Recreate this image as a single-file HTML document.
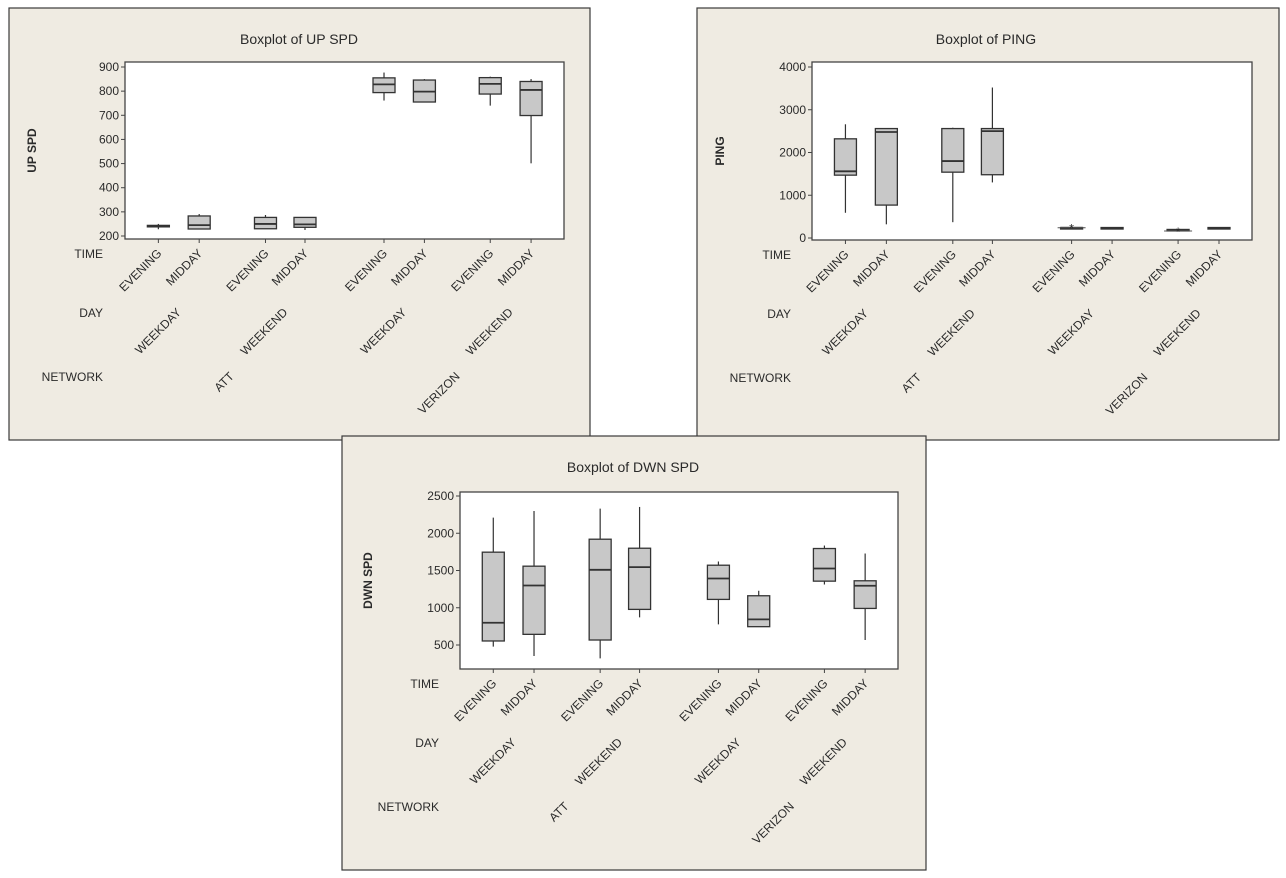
<!DOCTYPE html>
<html><head><meta charset="utf-8"><style>
html,body{margin:0;padding:0;background:#fff;}
svg text{font-family:"Liberation Sans",sans-serif;fill:#2a2a2a;}
</style></head><body>
<svg id="s" width="1286" height="873" viewBox="0 0 1286 873" xmlns="http://www.w3.org/2000/svg"></svg>
<script>
const times = ["EVENING","MIDDAY","EVENING","MIDDAY","EVENING","MIDDAY","EVENING","MIDDAY"];
const days = ["WEEKDAY","WEEKEND","WEEKDAY","WEEKEND"];
const networks = ["ATT","VERIZON"];

const upLow = [228,229,230,225,761,755,740,501];
const upQ1  = [238,229,230,236,794,755,788,699];
const upMed = [241,245,250,248,828,798,830,805];
const upQ3  = [244,283,277,277,855,846,856,840];
const upHigh= [250,291,287,277,877,850,860,850];
const upTicks = [200,300,400,500,600,700,800,900];

const pingLow = [590,320,370,1300,240,225,165,225];
const pingQ1  = [1470,770,1540,1480,235,220,180,220];
const pingMed = [1560,2480,1800,2500,240,230,190,230];
const pingQ3  = [2320,2560,2560,2560,245,245,200,245];
const pingHigh= [2660,2560,2580,3520,245,245,200,245];
const pingOut = [null,null,null,null,240,null,165,null];
const pingTicks = [0,1000,2000,3000,4000];

const dnLow = [478,353,321,871,777,746,1312,567];
const dnQ1  = [554,643,567,978,1112,746,1357,991];
const dnMed = [799,1299,1509,1545,1393,844,1527,1295];
const dnQ3  = [1746,1558,1920,1799,1571,1161,1795,1362];
const dnHigh= [2210,2299,2330,2353,1621,1228,1835,1728];
const dnTicks = [500,1000,1500,2000,2500];

const NS="http://www.w3.org/2000/svg";
const svg=document.getElementById('s');
function mk(tag,attrs,parent,text){const e=document.createElementNS(NS,tag);for(const k in attrs)e.setAttribute(k,attrs[k]);if(text!==undefined)e.textContent=text;(parent||svg).appendChild(e);return e;}

const slotFrac=[0.076,0.169,0.32,0.41,0.59,0.682,0.832,0.925];

function panel(cfg){
  const g=mk('g',{});
  
  
  const bg=mk('rect',{x:cfg.px,y:cfg.py,width:cfg.pw,height:cfg.ph,fill:'#efebe2',stroke:'#3a3a3a','stroke-width':1.2},g);
  
  
  const t=mk('text',{x:cfg.tx,y:cfg.ty,'text-anchor':'middle','font-size':14},g,cfg.title);
  
  
  const L=cfg.l,R=cfg.r,T=cfg.t,B=cfg.b;
  const pa=mk('rect',{x:L,y:T,width:R-L,height:B-T,fill:'#fff',stroke:'#444','stroke-width':1.3},g);
  
  
  const y=v=>cfg.y0+(v-cfg.v0)*(cfg.y1-cfg.y0)/(cfg.v1-cfg.v0);
  const x=i=>L+slotFrac[i]*(R-L);
  cfg.ticks.forEach(v=>{
    mk('line',{x1:L-4,x2:L,y1:y(v),y2:y(v),stroke:'#444'},g);
    const tl=mk('text',{x:L-6,y:y(v)+4,'text-anchor':'end','font-size':12},g,String(v));
    
    
  });
  const yt=mk('text',{x:0,y:0,'text-anchor':'middle','font-size':12,'font-weight':'bold',transform:`translate(${cfg.ytx},${(T+B)/2}) rotate(-90)`},g,cfg.ylab);
  
  
  const bw=22;
  for(let i=0;i<8;i++){
    const cx=x(i);
    mk('line',{x1:cx,x2:cx,y1:B,y2:B+4,stroke:'#444'},g);
    mk('line',{x1:cx,x2:cx,y1:y(cfg.high[i]),y2:y(cfg.low[i]),stroke:'#333','stroke-width':1.2},g);
    const h=Math.max(1.5,y(cfg.q1[i])-y(cfg.q3[i]));
    const bx=mk('rect',{x:cx-bw/2,y:y(cfg.q3[i]),width:bw,height:h,fill:'#c8c8c8',stroke:'#333','stroke-width':1.3},g);
    
    
    mk('line',{x1:cx-bw/2,x2:cx+bw/2,y1:y(cfg.med[i]),y2:y(cfg.med[i]),stroke:'#333','stroke-width':1.8},g);
    if(cfg.out&&cfg.out[i]!=null){
      const oy=y(cfg.out[i]);
      mk('line',{x1:cx-bw/2-3,x2:cx+bw/2+3,y1:oy,y2:oy,stroke:'#555'},g);
      const o=mk('text',{x:cx,y:oy+5,'text-anchor':'middle','font-size':12},g,'*');
      
      
    }
    const tl=mk('text',{x:0,y:0,'text-anchor':'end','font-size':12,transform:`translate(${cx+4},${B+15}) rotate(-45)`},g,times[i]);
    
    
  }
  for(let d=0;d<4;d++){
    const cx=(x(2*d)+x(2*d+1))/2;
    const dl=mk('text',{x:0,y:0,'text-anchor':'end','font-size':12,transform:`translate(${cx+3},${B+74}) rotate(-45)`},g,days[d]);
    
    
  }
  for(let n=0;n<2;n++){
    const cx=(x(4*n)+x(4*n+3))/2;
    const nl=mk('text',{x:0,y:0,'text-anchor':'end','font-size':12,transform:`translate(${cx+3},${B+138}) rotate(-45)`},g,networks[n]);
    
    
  }
  [['TIME',19],['DAY',78],['NETWORK',142]].forEach(([s,dy])=>{
    const r=mk('text',{x:L-cfg.rowOff,y:B+dy,'text-anchor':'end','font-size':12},g,s);
    
    
  });
}

panel({name:'up-spd-panel',px:9,py:8,pw:581,ph:432,tx:299,ty:44,title:'Boxplot of UP SPD',
  l:125,r:564,t:62,b:239,v0:200,y0:236,v1:900,y1:67,ticks:upTicks,ylab:'UP SPD',ytx:36,
  low:upLow,q1:upQ1,med:upMed,q3:upQ3,high:upHigh,rowOff:22});
panel({name:'ping-panel',px:697,py:8,pw:582,ph:432,tx:986,ty:44,title:'Boxplot of PING',
  l:812,r:1252,t:62,b:240,v0:0,y0:238,v1:4000,y1:67,ticks:pingTicks,ylab:'PING',ytx:724,
  low:pingLow,q1:pingQ1,med:pingMed,q3:pingQ3,high:pingHigh,out:pingOut,rowOff:21});
panel({name:'dwn-spd-panel',px:342,py:436,pw:584,ph:434,tx:633,ty:472,title:'Boxplot of DWN SPD',
  l:460,r:898,t:492,b:669,v0:500,y0:645,v1:2500,y1:496,ticks:dnTicks,ylab:'DWN SPD',ytx:372,
  low:dnLow,q1:dnQ1,med:dnMed,q3:dnQ3,high:dnHigh,rowOff:21});
</script>
</body></html>
